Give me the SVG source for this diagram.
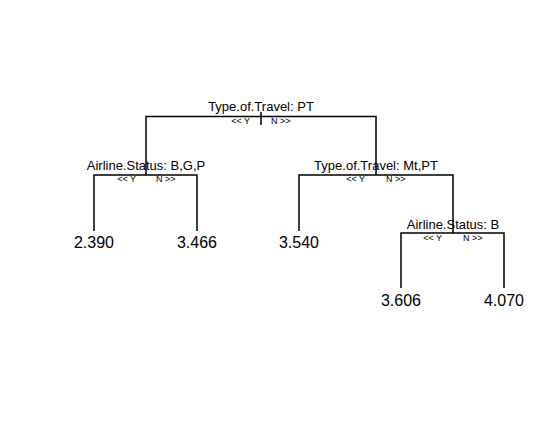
<svg xmlns="http://www.w3.org/2000/svg" width="560" height="428" viewBox="0 0 560 428">
<style>
.e{fill:none;stroke:#000;stroke-width:1.5}
.lab{font-family:"Liberation Sans",Arial,sans-serif;font-size:13px;text-anchor:middle;fill:#000}
.leaf{font-family:"Liberation Sans",Arial,sans-serif;font-size:16px;text-anchor:middle;fill:#000}
.yn{font-family:"Liberation Sans",Arial,sans-serif;font-size:9px;fill:#000}
.y{text-anchor:end}
.n{text-anchor:start}
</style>
<rect width="560" height="428" fill="#fff"/>
<g id="connectors">
<path class="e" d="M261 112V125"/>
<path class="e" d="M146 175V116.5H376V175"/>
<path class="e" d="M94 231V175H197V231"/>
<path class="e" d="M299 231V175H453V233"/>
<path class="e" d="M401 288V233H504V288"/>
</g>
<g id="node-root">
<text class="lab" x="261" y="111">Type.of.Travel: PT</text>
<text class="yn y" x="250" y="124">&lt;&lt; Y</text>
<text class="yn n" x="271" y="124">N &gt;&gt;</text>
</g>
<g id="node-left">
<text class="lab" x="146" y="170">Airline.Status: B,G,P</text>
<text class="yn y" x="136" y="182">&lt;&lt; Y</text>
<text class="yn n" x="156" y="182">N &gt;&gt;</text>
</g>
<g id="node-right">
<text class="lab" x="376" y="170">Type.of.Travel: Mt,PT</text>
<text class="yn y" x="365" y="182">&lt;&lt; Y</text>
<text class="yn n" x="386" y="182">N &gt;&gt;</text>
</g>
<g id="node-rr">
<text class="lab" x="453" y="229">Airline.Status: B</text>
<text class="yn y" x="442" y="241">&lt;&lt; Y</text>
<text class="yn n" x="463" y="241">N &gt;&gt;</text>
</g>
<g id="leaf1"><text class="leaf" x="94" y="248">2.390</text></g>
<g id="leaf2"><text class="leaf" x="197" y="248">3.466</text></g>
<g id="leaf3"><text class="leaf" x="299" y="248">3.540</text></g>
<g id="leaf4"><text class="leaf" x="401" y="306">3.606</text></g>
<g id="leaf5"><text class="leaf" x="504" y="306">4.070</text></g>
</svg>
